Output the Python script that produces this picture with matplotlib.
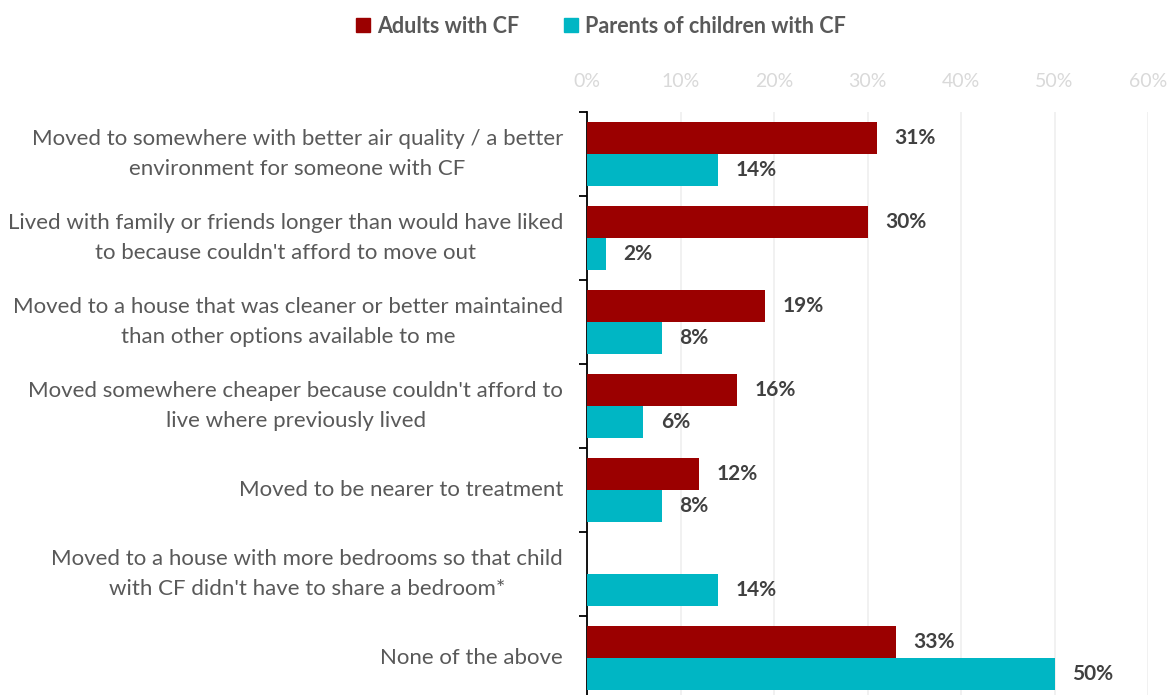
import numpy as np
import matplotlib
matplotlib.use("Agg")
import matplotlib.pyplot as plt
import matplotlib.transforms as mtransforms
from matplotlib.lines import Line2D

plt.rcParams['font.family'] = ['Lato', 'DejaVu Sans']

categories = [
    "Moved to somewhere with better air quality / a better\nenvironment for someone with CF",
    "Lived with family or friends longer than would have liked\nto because couldn't afford to move out",
    "Moved to a house that was cleaner or better maintained\nthan other options available to me",
    "Moved somewhere cheaper because couldn't afford to\nlive where previously lived",
    "Moved to be nearer to treatment",
    "Moved to a house with more bedrooms so that child\nwith CF didn't have to share a bedroom*",
    "None of the above",
]
adults = [31, 30, 19, 16, 12, np.nan, 33]
parents = [14, 2, 8, 6, 8, 14, 50]
series_names = ["Adults with CF", "Parents of children with CF"]
x_ticks = [0, 10, 20, 30, 40, 50, 60]

RED = '#9b0000'
TEAL = '#00b6c4'
TEXT = '#595959'
VALUE = '#404040'

fig = plt.figure(figsize=(11.71, 6.95), dpi=100)
ax = fig.add_axes([0.5013, -0.0072, 0.4791, 0.8461])

y = np.arange(len(categories))
h = 0.38
ax.barh(y - h / 2, adults, height=h, color=RED, zorder=3)
ax.barh(y + h / 2, parents, height=h, color=TEAL, zorder=3)

for yi, v in zip(y - h / 2, adults):
    if not np.isnan(v):
        ax.text(v + 1.9, yi, f"{v:.0f}%", va='center', ha='left',
                fontsize=15, fontweight='bold', color=VALUE)
for yi, v in zip(y + h / 2, parents):
    ax.text(v + 1.9, yi, f"{v:.0f}%", va='center', ha='left',
            fontsize=15, fontweight='bold', color=VALUE)

ax.set_xlim(0, 60)
ax.set_ylim(len(categories) - 0.5, -0.5)

ax.xaxis.tick_top()
ax.set_xticks(x_ticks)
ax.set_xticklabels([f"{t}%" for t in x_ticks], color='#d9d9d9', fontsize=14)
ax.tick_params(axis='x', length=0, pad=16)
ax.grid(axis='x', color='#efefef', linewidth=1.2, zorder=0)

# category labels, right-aligned against the axis, lines centred on each other
ax.set_yticks([])
label_tr = mtransforms.blended_transform_factory(ax.transAxes, ax.transData) + \
    mtransforms.ScaledTranslation(-24 / 100, 0, fig.dpi_scale_trans)
for yi, name in zip(y, categories):
    ax.text(0, yi, name, transform=label_tr, ha='right', va='center',
            multialignment='center', fontsize=16, color=TEXT, linespacing=1.6)

ax.set_yticks(np.arange(-0.5, len(categories) + 0.5, 1), minor=True)
ax.tick_params(axis='y', which='minor', length=6, width=1.3, color='black')

for side in ['top', 'right', 'bottom']:
    ax.spines[side].set_visible(False)
ax.spines['left'].set_color('black')
ax.spines['left'].set_linewidth(1.3)

handles = [Line2D([], [], marker='s', linestyle='none', markersize=10,
                  color=c) for c in (RED, TEAL)]
leg = fig.legend(handles, series_names, loc='upper center',
                 bbox_to_anchor=(0.5124, 1.005), ncol=2, frameon=False,
                 handlelength=0.8, handletextpad=0.25, columnspacing=2.0,
                 prop={'size': 15.5, 'weight': 'bold'})
for t in leg.get_texts():
    t.set_color(TEXT)

fig.savefig('out.png', dpi=100)
